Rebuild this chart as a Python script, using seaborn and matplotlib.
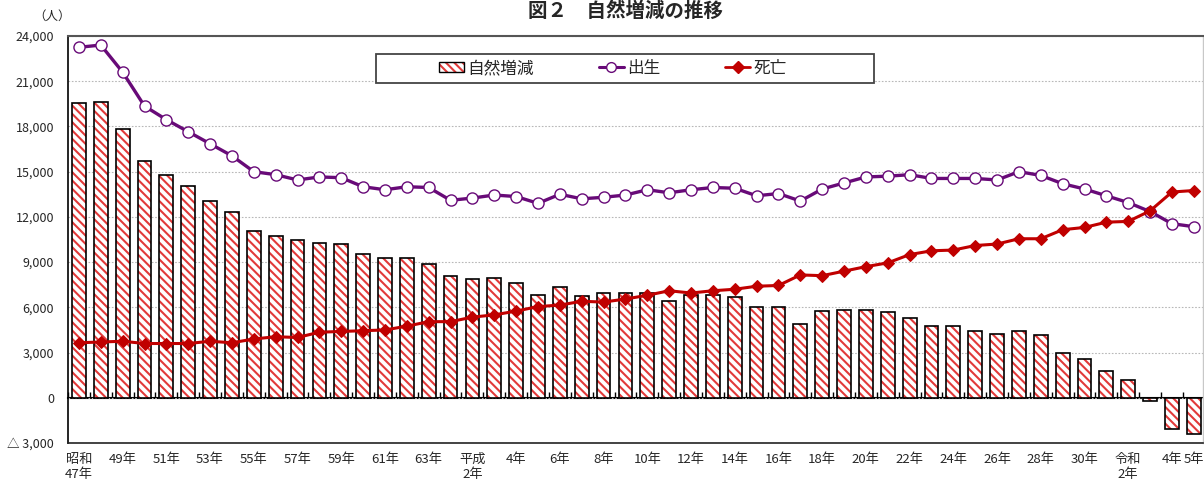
import numpy as np
import pandas as pd
import matplotlib.pyplot as plt
import matplotlib.patches as mpatches
from matplotlib.lines import Line2D
from matplotlib.legend_handler import HandlerTuple
import seaborn as sns

sns.set_style("white")
plt.rcParams['font.family'] = ['Noto Sans CJK JP', 'DejaVu Sans']
plt.rcParams['hatch.linewidth'] = 1.5

# years: 昭和47 .. 令和5 (52 years)
years = ([f"昭和{y}" for y in range(47, 64)] + [f"平成{y}" for y in range(1, 31)]
         + [f"令和{y}" for y in range(1, 6)])

births = [23250, 23400, 21600, 19350, 18450, 17650, 16850, 16050, 15000, 14800,
          14450, 14650, 14600, 14000, 13800, 14000, 13950, 13100, 13250, 13450,
          13350, 12900, 13500, 13200, 13300, 13450, 13800, 13600, 13800, 13950,
          13900, 13400, 13550, 13050, 13850, 14250, 14650, 14700, 14800, 14550,
          14550, 14550, 14450, 15000, 14750, 14200, 13850, 13400, 12950, 12350,
          11550, 11350]

deaths = [3650, 3700, 3750, 3600, 3600, 3600, 3750, 3650, 3900, 4050,
          4000, 4350, 4400, 4450, 4500, 4750, 5050, 5050, 5350, 5500,
          5750, 6050, 6150, 6400, 6350, 6550, 6800, 7100, 6950, 7100,
          7200, 7400, 7450, 8150, 8100, 8400, 8700, 8950, 9500, 9750,
          9800, 10100, 10200, 10550, 10550, 11150, 11300, 11650, 11700, 12400,
          13650, 13750]

natural = [19550, 19650, 17800, 15700, 14800, 14050, 13050, 12300, 11050, 10750,
           10500, 10300, 10200, 9550, 9250, 9250, 8900, 8050, 7900, 7950,
           7600, 6800, 7350, 6750, 6950, 6950, 6950, 6450, 6800, 6800,
           6700, 6000, 6050, 4900, 5750, 5800, 5850, 5700, 5300, 4750,
           4750, 4450, 4200, 4450, 4150, 3000, 2550, 1750, 1200, -200,
           -2100, -2400]

tick_labels = ["昭和\n47年", "", "49年", "", "51年", "", "53年", "", "55年", "",
               "57年", "", "59年", "", "61年", "", "63年", "", "平成\n2年", "",
               "4年", "", "6年", "", "8年", "", "10年", "", "12年", "",
               "14年", "", "16年", "", "18年", "", "20年", "", "22年", "",
               "24年", "", "26年", "", "28年", "", "30年", "", "令和\n2年", "",
               "4年", "5年"]

yticks = list(range(-3000, 24001, 3000))

df = pd.DataFrame({"year": years, "idx": np.arange(len(years)),
                   "births": births, "deaths": deaths, "natural": natural})

HATCH_RED = "#e23a3a"
PURPLE = "#680a78"
RED = "#c00000"

fig = plt.figure(figsize=(12.04, 4.82), dpi=100)
ax = fig.add_axes([68 / 1204, 39 / 482, 1135 / 1204, 407 / 482])

# bars: red hatch, then black outline on top
sns.barplot(data=df, x="year", y="natural", order=years, color="white",
            edgecolor=HATCH_RED, linewidth=0, hatch="\\\\\\\\", width=0.63,
            saturation=1, ax=ax, zorder=2)
sns.barplot(data=df, x="year", y="natural", order=years, color="black",
            fill=False, linewidth=1.2, width=0.63, ax=ax, zorder=2)

sns.lineplot(data=df, x="idx", y="births", color=PURPLE, linewidth=2.4,
             marker="o", markersize=8, markerfacecolor="white",
             markeredgecolor=PURPLE, markeredgewidth=1.0, ax=ax, zorder=3)
sns.lineplot(data=df, x="idx", y="deaths", color=RED, linewidth=2.2,
             marker="D", markersize=6.5, markerfacecolor=RED,
             markeredgecolor=RED, ax=ax, zorder=3)

ax.set_xlim(-0.5, 51.42)
ax.set_ylim(-3000, 24000)
ax.set_xlabel("")
ax.set_ylabel("")

ax.set_xticks(range(len(years)))
ax.set_xticklabels(tick_labels, fontsize=9.5, va="top", linespacing=1.25)
ax.tick_params(axis="x", length=0, pad=7)
ax.set_yticks(yticks)
ax.set_yticklabels(["△ 3,000" if v < 0 else f"{v:,}" for v in yticks], fontsize=9)
ax.tick_params(axis="y", length=0, pad=10)

ax.set_axisbelow(True)
ax.grid(axis="y", color="#b8b8b8", linestyle=(0, (1.5, 1.5)), linewidth=0.8)
ax.grid(axis="x", visible=False)

for side, col, lw in [("left", "black", 1.2), ("bottom", "#222222", 1.2),
                      ("top", "#555555", 1.5), ("right", "#c8c8c8", 1.0)]:
    ax.spines[side].set_visible(True)
    ax.spines[side].set_color(col)
    ax.spines[side].set_linewidth(lw)

# zero line with category tick marks
zero_ax = ax.secondary_xaxis(3000 / 27000)
zero_ax.set_xticks(np.arange(-0.5, 51.5, 1.0))
zero_ax.set_xticklabels([])
zero_ax.tick_params(direction="in", length=4, width=1.0, color="black")
zero_ax.spines["bottom"].set_color("black")
zero_ax.spines["bottom"].set_linewidth(1.5)

# legend
fig.patches.append(mpatches.Rectangle((376 / 1204, 1 - 83 / 482), 498 / 1204, 29 / 482,
                                      transform=fig.transFigure, facecolor="white",
                                      edgecolor="#444444", linewidth=1.3, zorder=4))
bar_h = (mpatches.Patch(facecolor="white", edgecolor=HATCH_RED, hatch="\\\\\\\\", linewidth=0),
         mpatches.Patch(facecolor="none", edgecolor="black", linewidth=1.0))
birth_h = Line2D([], [], color=PURPLE, linewidth=2.2, marker="o", markersize=7,
                 markerfacecolor="white", markeredgecolor=PURPLE)
death_h = Line2D([], [], color=RED, linewidth=2.0, marker="D", markersize=6,
                 markerfacecolor=RED, markeredgecolor=RED)
leg = fig.legend([bar_h, birth_h, death_h], ["自然増減", "出生", "死亡"],
                 handler_map={tuple: HandlerTuple(ndivide=1, pad=0)},
                 loc="center", bbox_to_anchor=(613 / 1204, 1 - 68.5 / 482),
                 ncol=3, frameon=False, fontsize=12, handlelength=1.5,
                 handleheight=0.6, handletextpad=0.2, columnspacing=3.9)
leg.set_zorder(5)

fig.text(33 / 1204, 1 - 16 / 482, "（人）", fontsize=9, ha="left", va="center")
fig.text(625 / 1204, 0.998, "図２　自然増減の推移", fontsize=14, fontweight="bold",
         ha="center", va="top")

fig.savefig("out.png", dpi=100)
